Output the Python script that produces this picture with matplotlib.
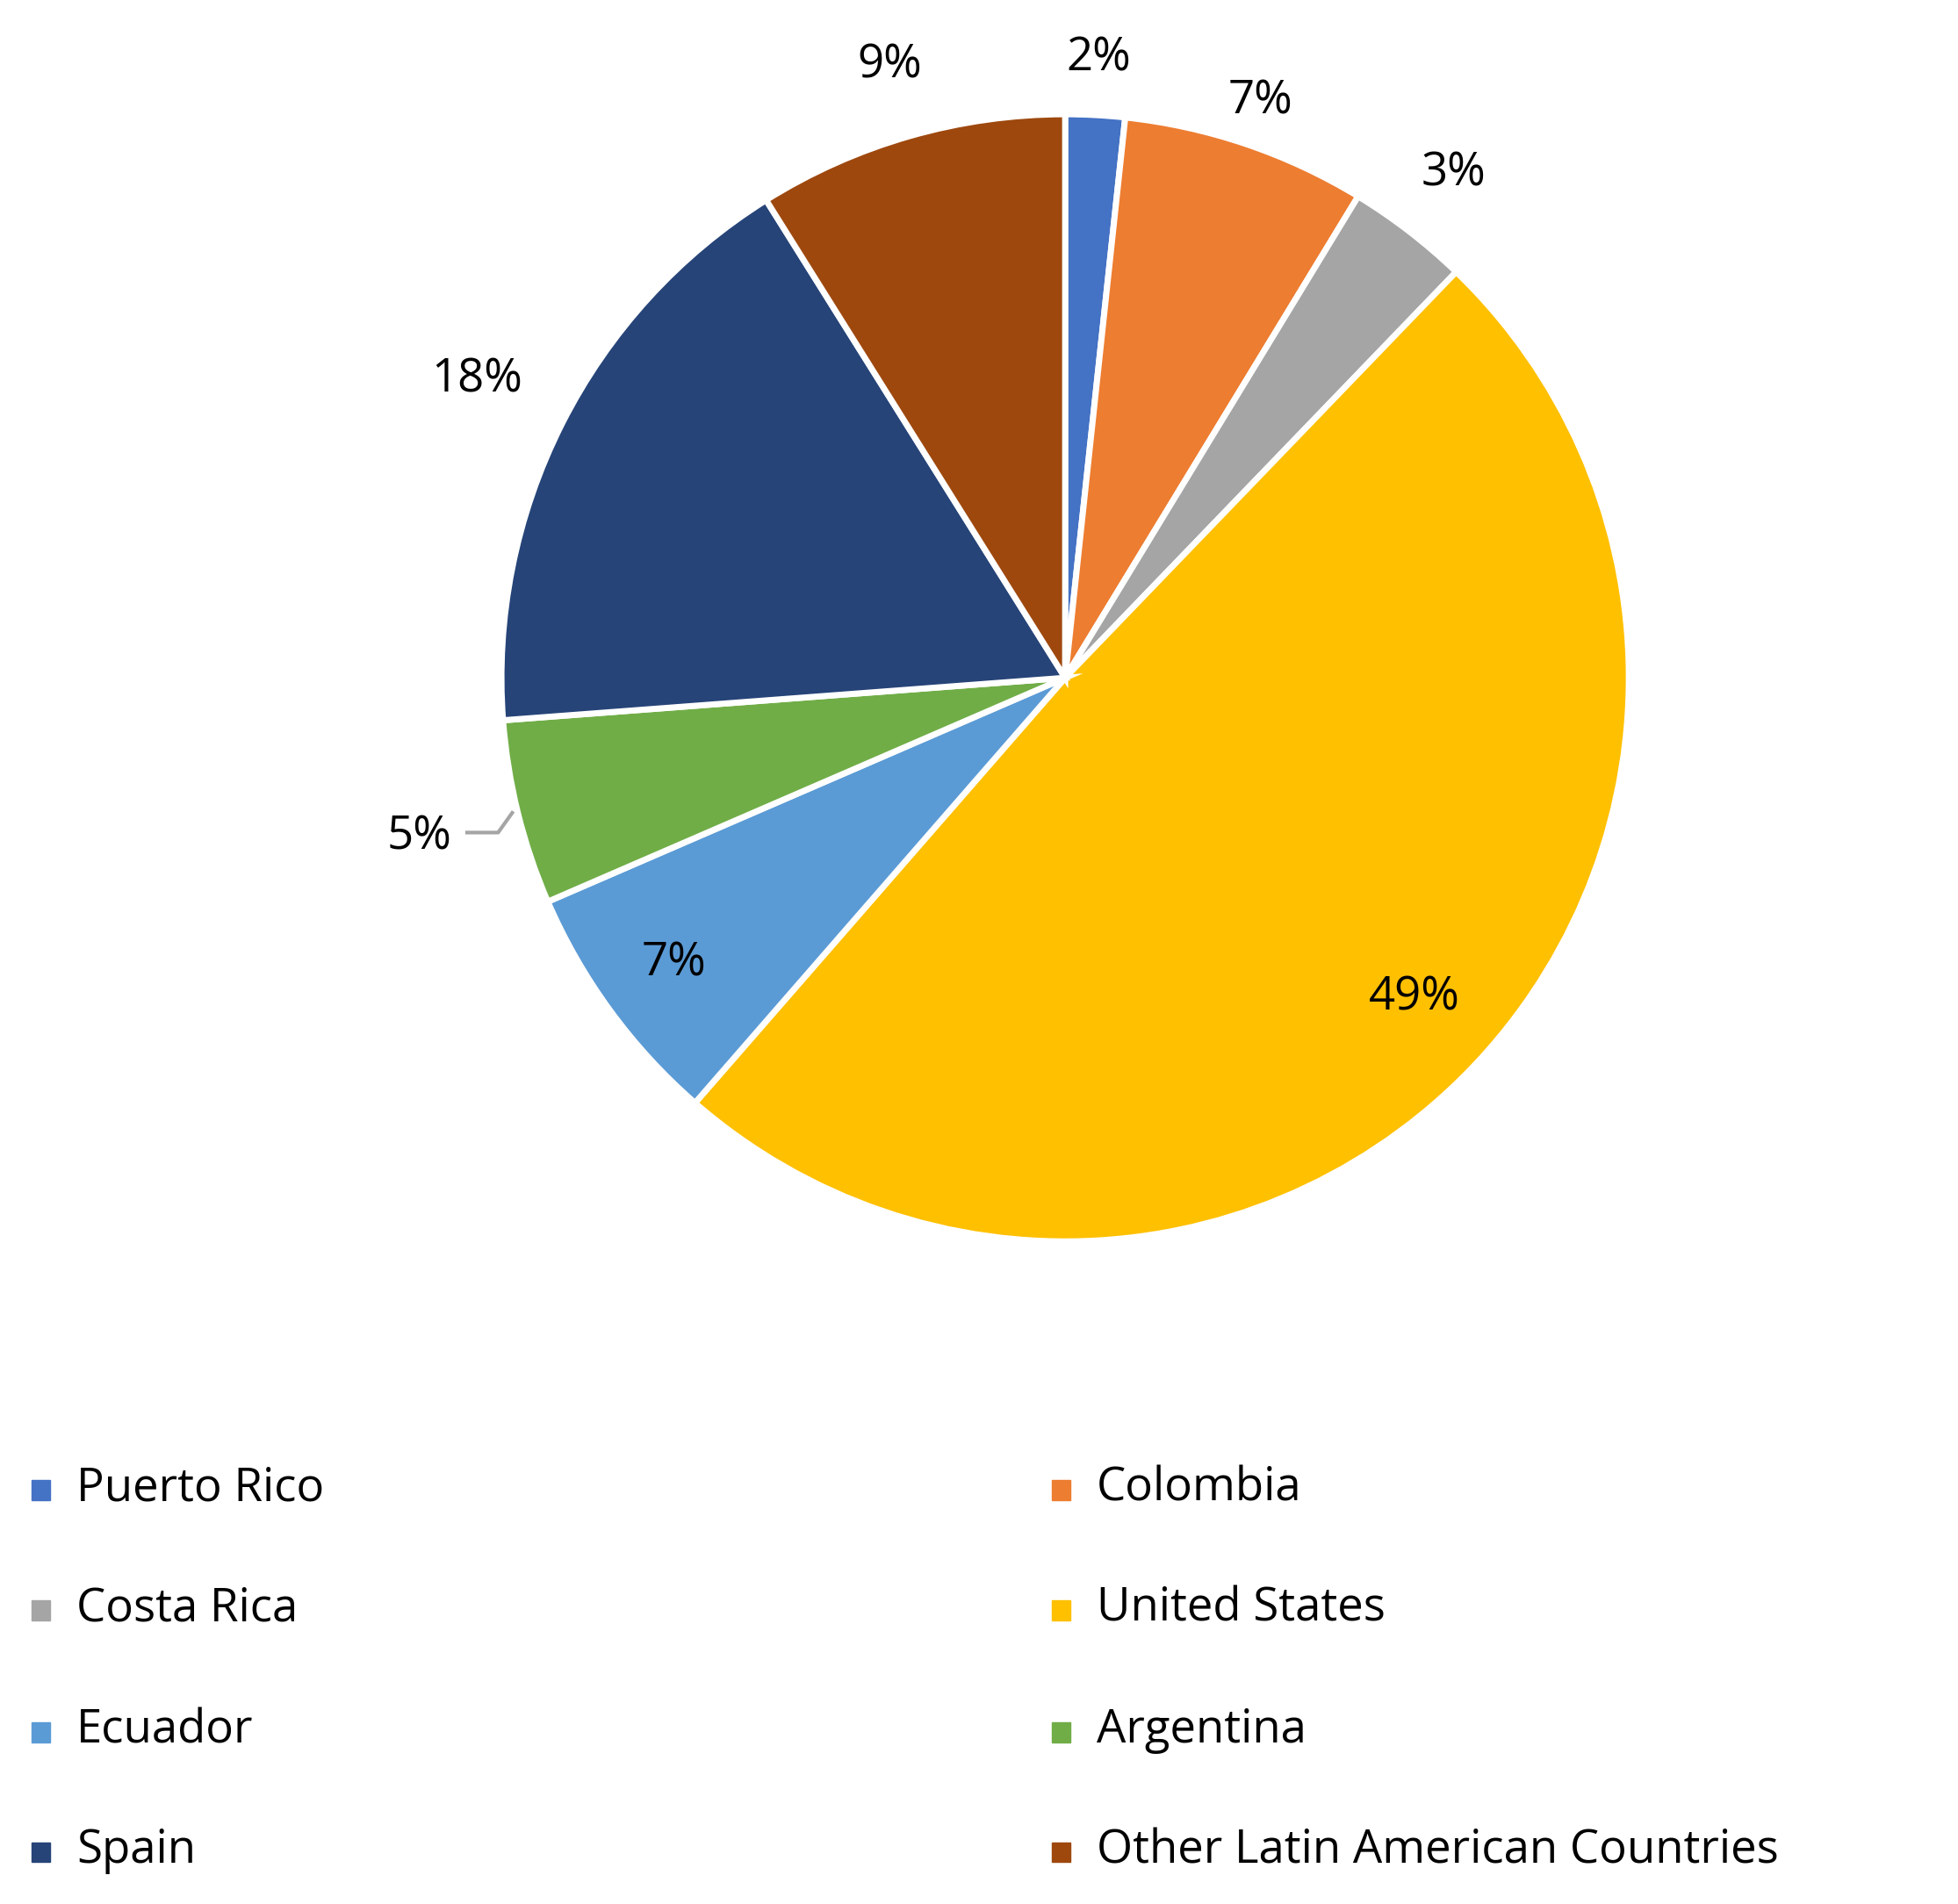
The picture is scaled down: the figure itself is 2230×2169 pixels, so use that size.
import matplotlib
matplotlib.use("Agg")
import matplotlib.pyplot as plt
import numpy as np
from matplotlib.patches import Rectangle

categories = ["Puerto Rico", "Colombia", "Costa Rica", "United States",
              "Ecuador", "Argentina", "Spain", "Other Latin American Countries"]
values = [1.7, 7.0, 3.5, 49.2, 7.1, 5.3, 17.3, 8.9]
labels = ["2%", "7%", "3%", "49%", "7%", "5%", "18%", "9%"]
colors = ["#4472C4", "#ED7D31", "#A5A5A5", "#FFC000",
          "#5B9BD5", "#70AD47", "#264478", "#9E480E"]
label_r = [1.10, 1.08, 1.13, 0.84, 0.86, 1.18, 1.17, 1.13]

plt.rcParams['font.family'] = ['Open Sans', 'DejaVu Sans']
fig = plt.figure(figsize=(22.30, 21.69), dpi=100)
ax = fig.add_axes([0.256, 0.348, 0.576, 0.592])
wedges, _ = ax.pie(values, colors=colors, startangle=90, counterclock=False,
                   wedgeprops=dict(edgecolor="white", linewidth=5))
ax.set_aspect("equal")
ax.set_xlim(-1, 1); ax.set_ylim(-1, 1)
ax.set_axis_off()
for w, lab, r in zip(wedges, labels, label_r):
    ang = np.deg2rad((w.theta1 + w.theta2) / 2)
    ax.text(r * np.cos(ang), r * np.sin(ang), lab, ha="center", va="center",
            fontsize=38, clip_on=False)
# leader line for Argentina label
w = wedges[5]
ang = np.deg2rad((w.theta1 + w.theta2) / 2)
px, py = 1.0 * np.cos(ang), 1.0 * np.sin(ang)
ax.plot([px - 0.01, px - 0.035, px - 0.09], [py + 0.0, py - 0.035, py - 0.035],
        color="#A5A5A5", lw=3, clip_on=False)

# legend
rows_y = [0.218, 0.155, 0.091, 0.028]
col_x = [0.016, 0.537]
for i, (c, col) in enumerate(zip(categories, colors)):
    x = col_x[i % 2]; y = rows_y[i // 2]
    fig.add_artist(Rectangle((x, y - 0.006), 0.0095, 0.0105, transform=fig.transFigure,
                             color=col))
    fig.text(x + 0.023, y, c, fontsize=38, va="center", ha="left")
fig.savefig("out.png")
